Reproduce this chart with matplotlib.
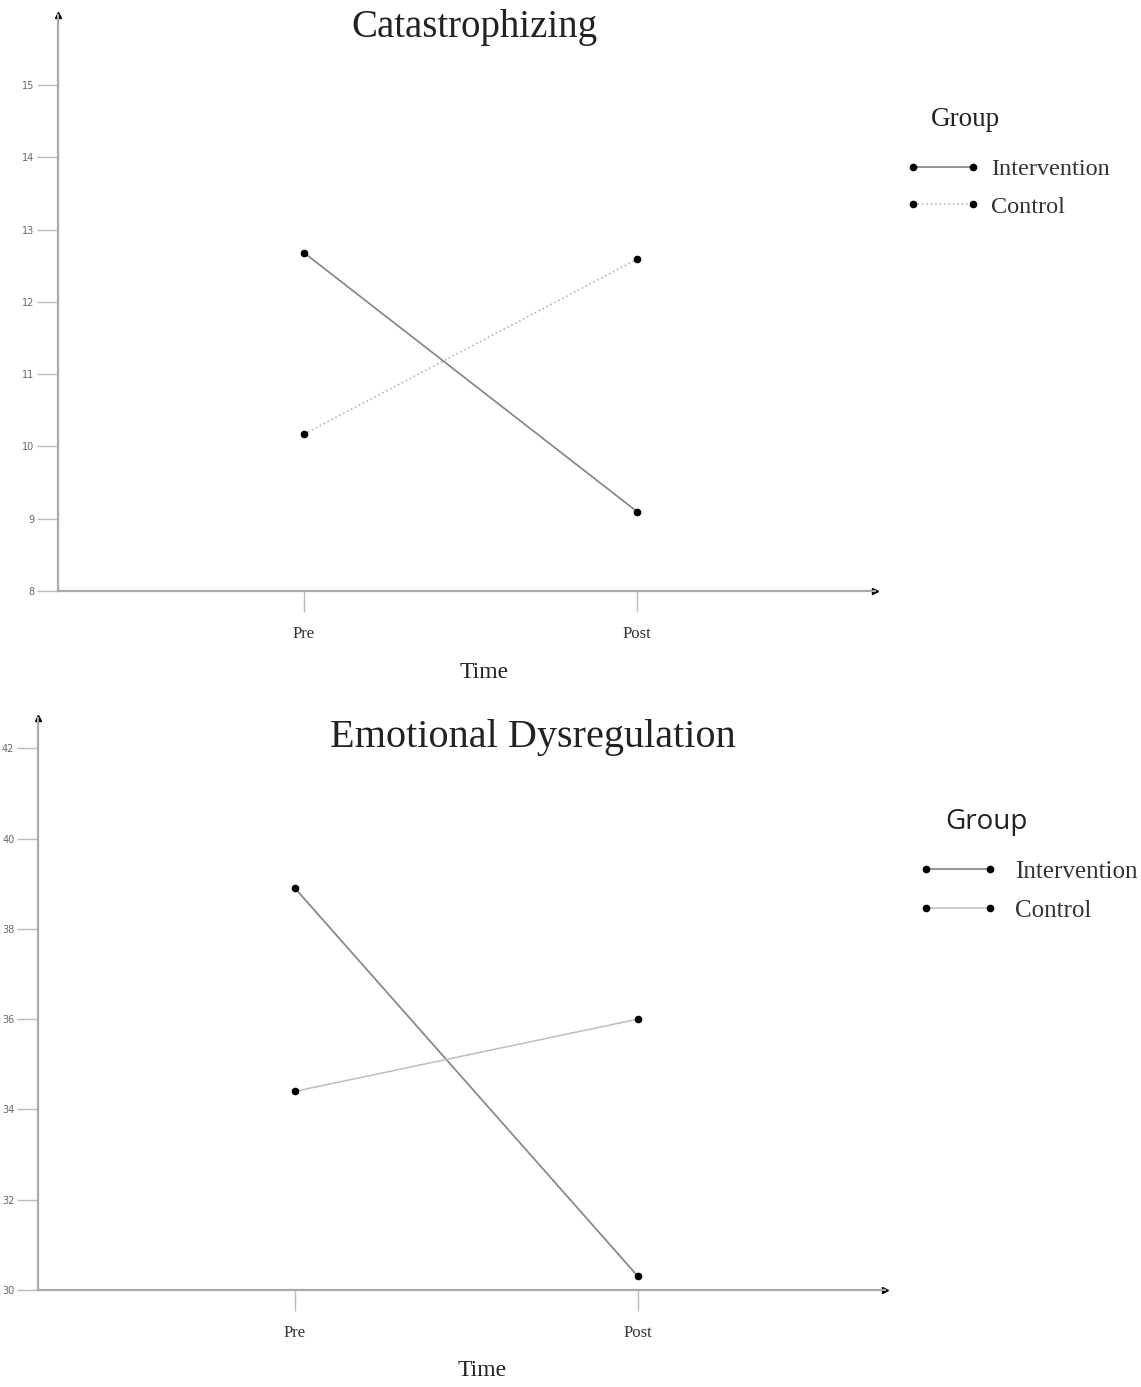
import matplotlib
matplotlib.use('Agg')
import matplotlib.pyplot as plt

time_labels = ['Pre', 'Post']
groups = ['Intervention', 'Control']

cat_intervention = [12.68, 9.10]
cat_control = [10.17, 12.59]
cat_ticks = [8, 9, 10, 11, 12, 13, 14, 15]

emo_intervention = [38.9, 30.3]
emo_control = [34.4, 36.0]
emo_ticks = [30, 32, 34, 36, 38, 40, 42]

serif = 'Liberation Serif'
W, H = 1141, 1387
fig = plt.figure(figsize=(W / 100, H / 100), dpi=100)


def style_axes(ax, xlim, ylim, yticks):
    x = range(len(time_labels))
    ax.set_xlim(*xlim)
    ax.set_ylim(*ylim)
    for s in ['top', 'right']:
        ax.spines[s].set_visible(False)
    for s in ['left', 'bottom']:
        ax.spines[s].set_color('#aaaaaa')
        ax.spines[s].set_linewidth(1.6)
    ax.set_yticks(yticks)
    ax.set_xticks(list(x))
    ax.set_xticklabels(time_labels, fontfamily=serif, fontsize=12, color='#333333')
    ax.tick_params(axis='y', length=15, width=1, color='#bbbbbb', pad=2,
                   labelsize=7, labelcolor='#666666')
    ax.tick_params(axis='x', length=15, width=1, color='#bbbbbb', pad=10)
    ax.plot(0, 1, marker='^', color='black', markersize=4,
            transform=ax.transAxes, clip_on=False)
    ax.plot(1, 0, marker='>', color='black', markersize=4,
            transform=ax.transAxes, clip_on=False)
    ax.patch.set_alpha(0)


# Catastrophizing
ax1 = fig.add_axes([58 / W, 1 - 591 / H, (875 - 58) / W, (591 - 15) / H])
style_axes(ax1, (-0.739, 1.715), (8, 15.97), cat_ticks)
ax1.plot(range(2), cat_intervention, color='#8a8a8a', linewidth=1.3, linestyle='-',
         marker='o', markersize=4.5, markerfacecolor='black', markeredgecolor='black',
         label=groups[0])
ax1.plot(range(2), cat_control, color='#b5b5b5', linewidth=1.2, linestyle=':',
         marker='o', markersize=4.5, markerfacecolor='black', markeredgecolor='black',
         label=groups[1])
fig.text(474 / W, 1 - 28 / H, 'Catastrophizing', fontfamily=serif, fontsize=28,
         ha='center', va='center', color='#222222')
fig.text(484 / W, 1 - 672 / H, 'Time', fontfamily=serif, fontsize=17,
         ha='center', va='center', color='#222222')
fig.text(931 / W, 1 - 120 / H, 'Group', fontfamily=serif, fontsize=19.5,
         ha='left', va='center', color='#222222')
leg1 = ax1.legend(numpoints=2, frameon=False, loc='center left',
                  bbox_to_anchor=(884 / W, 1 - 188 / H), bbox_transform=fig.transFigure,
                  prop={'family': serif, 'size': 17.5}, handlelength=3.07,
                  handletextpad=0.45, labelspacing=0.63)
for t in leg1.get_texts():
    t.set_color('#333333')

# Emotional Dysregulation
ax2 = fig.add_axes([38 / W, 1 - 1290 / H, (885 - 38) / W, (1290 - 718) / H])
style_axes(ax2, (-0.749, 1.72), (30, 42.67), emo_ticks)
ax2.plot(range(2), emo_intervention, color='#8a8a8a', linewidth=1.3, linestyle='-',
         marker='o', markersize=4.5, markerfacecolor='black', markeredgecolor='black',
         label=groups[0])
ax2.plot(range(2), emo_control, color='#bdbdbd', linewidth=1.1, linestyle='-',
         marker='o', markersize=4.5, markerfacecolor='black', markeredgecolor='black',
         label=groups[1])
fig.text(533 / W, 1 - 737 / H, 'Emotional Dysregulation', fontfamily=serif, fontsize=29,
         ha='center', va='center', color='#222222')
fig.text(482 / W, 1 - 1370 / H, 'Time', fontfamily=serif, fontsize=17,
         ha='center', va='center', color='#222222')
fig.text(945 / W, 1 - 822 / H, 'Group', fontfamily='Open Sans', fontsize=20,
         ha='left', va='center', color='#222222')
leg2 = ax2.legend(numpoints=2, frameon=False, loc='center left',
                  bbox_to_anchor=(896 / W, 1 - 891 / H), bbox_transform=fig.transFigure,
                  prop={'family': serif, 'size': 18}, handlelength=3.15,
                  handletextpad=0.7, labelspacing=0.68)
for t in leg2.get_texts():
    t.set_color('#333333')

fig.savefig('out.png', dpi=100, facecolor='white')
